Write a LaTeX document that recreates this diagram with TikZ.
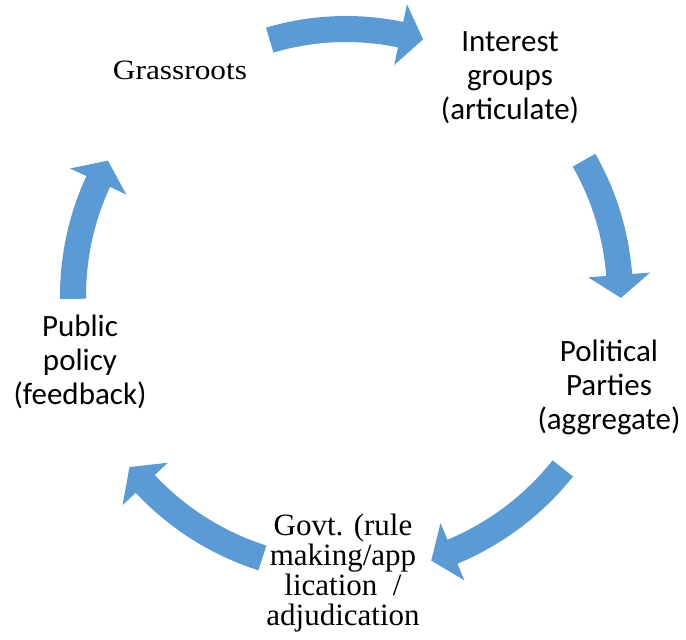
\documentclass[tikz,border=0pt]{standalone}
\usepackage{fontspec}
\setmainfont{Liberation Serif}
\newfontfamily\calfont{Carlito}
\usetikzlibrary{calc}
\definecolor{arrowblue}{RGB}{91,155,213}
\newcommand{\cyclearrow}[3]{% tail angle, head base angle, radius
  \pgfmathsetmacro{\ro}{#3+13}
  \pgfmathsetmacro{\ri}{#3-13}
  \pgfmathsetmacro{\hro}{#3+31}
  \pgfmathsetmacro{\hri}{#3-31}
  \pgfmathsetmacro{\tdir}{#2-90}
  \fill[arrowblue] (#1:\ro) arc[start angle=#1, end angle=#2, radius=\ro]
    -- (#2:\hro) -- ($(#2:#3)+(\tdir:23)$) -- (#2:\hri) -- (#2:\ri)
    arc[start angle=#2, end angle=#1, radius=\ri] -- cycle;
}
\tikzset{
  sanslabel/.style={inner sep=0pt, font=\calfont\fontsize{31}{34}\selectfont},
  seriflabel/.style={inner sep=0pt, font=\fontsize{28}{28.5}\selectfont},
  govtlabel/.style={inner sep=0pt, font=\fontsize{31}{29}\selectfont},
}
\begin{document}
\begin{tikzpicture}[x=1pt,y=1pt]
\useasboundingbox (0,0) rectangle (686,640);
\fill[white] (0,0) rectangle (686,640);
\begin{scope}[shift={(346,344)}]
  \cyclearrow{106.6}{78.2}{267}
  \cyclearrow{29.7}{4.4}{274}
  \cyclearrow{-38.5}{-67.4}{277}
  \cyclearrow{-107.7}{-136.9}{275}
  \cyclearrow{180.6}{155.2}{273}
\end{scope}
\node[seriflabel, anchor=base] (grass) at (180,560) {\scalebox{1.12}[1]{Grassroots}};
\node[sanslabel] (interest) at (510,561) {\begin{tabular}{@{}c@{}}Interest\\groups\\(articulate)\end{tabular}};
\node[sanslabel] (parties) at (609,251) {\begin{tabular}{@{}c@{}}Political\\Parties\\(aggregate)\end{tabular}};
\node[govtlabel] (govt) at (343,66) {\begin{tabular}{@{}c@{}}Govt. (rule\\making/app\\lication~~/~\\adjudication\end{tabular}};
\node[sanslabel] (policy) at (80,276) {\begin{tabular}{@{}c@{}}Public\\policy\\(feedback)\end{tabular}};
\end{tikzpicture}
\end{document}
